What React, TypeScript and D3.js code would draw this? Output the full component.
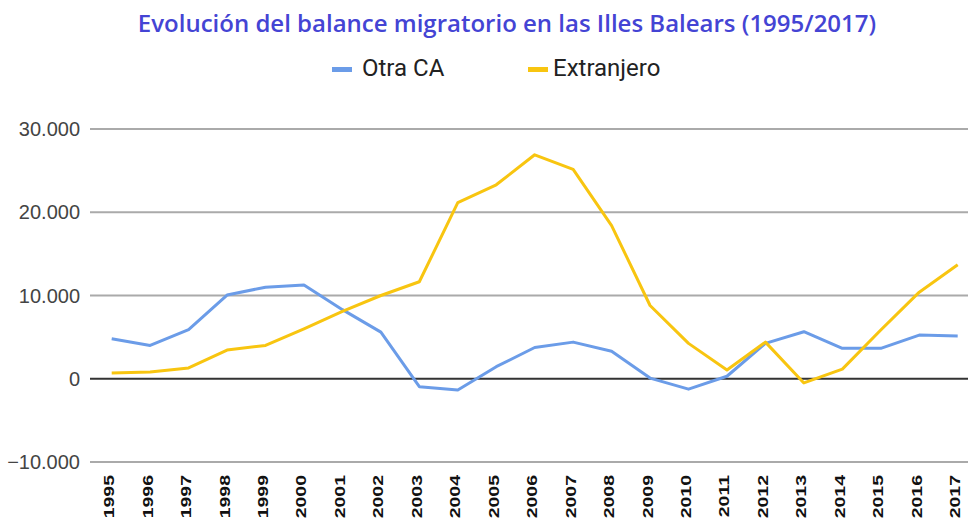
import React, { useEffect, useRef } from "react";
import * as d3 from "d3";

const years = [
  "1995", "1996", "1997", "1998", "1999", "2000", "2001", "2002", "2003", "2004", "2005", "2006",
  "2007", "2008", "2009", "2010", "2011", "2012", "2013", "2014", "2015", "2016", "2017",
];
const otraCA = [
  4800, 4000, 5900, 10050, 11000, 11250, 8300, 5600, -950, -1350, 1450, 3750,
  4400, 3300, 80, -1250, 300, 4250, 5650, 3650, 3650, 5250, 5150,
];
const extranjero = [
  700, 800, 1300, 3450, 4000, 6000, 8100, 10000, 11650, 21150, 23300, 26900,
  25150, 18400, 8800, 4250, 1050, 4400, -500, 1150, 5850, 10400, 13700,
];
const yTicks = [-10000, 0, 10000, 20000, 30000];

const series = [
  { name: "Otra CA", values: otraCA, color: "#6b9ce8" },
  { name: "Extranjero", values: extranjero, color: "#f8c510" },
];

const W = 968;
const H = 520;

const App = () => {
  const svgRef = useRef<SVGSVGElement>(null);

  useEffect(() => {
    const svg = d3.select(svgRef.current);
    svg.selectAll("*").remove();

    const left = 90;
    const x = d3.scalePoint<string>().domain(years).range([111.7, 957.7]);
    const y = d3.scaleLinear().domain([-10000, 30000]).range([462, 129]);

    // title
    svg
      .append("text")
      .attr("x", 507)
      .attr("y", 32)
      .attr("text-anchor", "middle")
      .attr("font-family", "Open Sans")
      .attr("font-weight", 600)
      .attr("font-size", 24)
      .attr("fill", "#4444d4")
      .text("Evolución del balance migratorio en las Illes Balears (1995/2017)");

    // legend
    const legendX = [332, 528];
    series.forEach((s, i) => {
      const g = svg.append("g").attr("transform", `translate(${legendX[i]},69)`);
      g.append("rect").attr("x", 0).attr("y", -2).attr("width", 20).attr("height", 5).attr("fill", s.color);
      g.append("text")
        .attr("x", i === 0 ? 30 : 25)
        .attr("y", 7)
        .attr("font-family", "Roboto")
        .attr("font-size", 24)
        .attr("fill", "#222")
        .text(s.name);
    });

    // gridlines
    svg
      .append("g")
      .selectAll("line")
      .data(yTicks)
      .join("line")
      .attr("x1", left)
      .attr("x2", W)
      .attr("y1", (d) => y(d))
      .attr("y2", (d) => y(d))
      .attr("stroke", (d) => (d === 0 ? "#333" : "#aaa"))
      .attr("stroke-width", 2);

    // y labels
    svg
      .append("g")
      .selectAll("text")
      .data(yTicks)
      .join("text")
      .attr("x", 80)
      .attr("y", (d) => y(d) + 7)
      .attr("text-anchor", "end")
      .attr("font-family", "Arial, Liberation Sans")
      .attr("font-size", 20)
      .attr("fill", "#444")
      .text((d) => (d === 0 ? "0" : d3.format(",")(d).replace(/,/g, ".")));

    // x labels
    svg
      .append("g")
      .selectAll("text")
      .data(years)
      .join("text")
      .attr("transform", (d) => `translate(${(x(d) ?? 0) + 2.5},475) rotate(-90) scale(1.3,1)`)
      .attr("text-anchor", "end")
      .attr("font-family", "Arial, Liberation Sans")
      .attr("font-weight", "bold")
      .attr("font-size", 15)
      .attr("fill", "#111")
      .text((d) => d);

    // lines
    const line = d3
      .line<number>()
      .x((_, i) => x(years[i]) ?? 0)
      .y((d) => y(d));

    series.forEach((s) => {
      svg
        .append("path")
        .attr("d", line(s.values))
        .attr("fill", "none")
        .attr("stroke", s.color)
        .attr("stroke-width", 3)
        .attr("stroke-linejoin", "round");
    });
  }, []);

  return (
    <svg
      ref={svgRef}
      width={W}
      height={H}
      style={{ position: "absolute", left: 0, top: 0, background: "#fff" }}
    />
  );
};

export default App;
